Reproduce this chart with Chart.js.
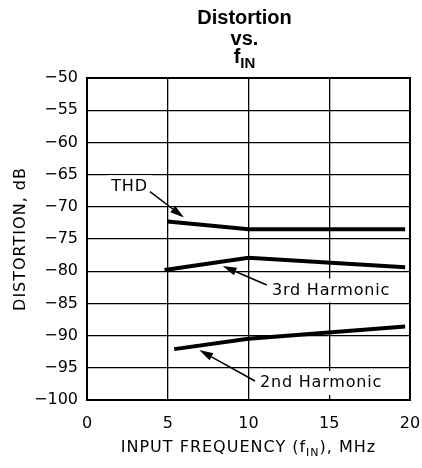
<!DOCTYPE html>
<html>
<head>
<meta charset="utf-8">
<script src="https://cdn.jsdelivr.net/npm/chart.js@4"></script>
<style>
  html, body { margin: 0; padding: 0; background: #fff; }
  canvas { display: block; }
</style>
</head>
<body>
<canvas id="distChart" width="422" height="468"></canvas>
<script>
// data (MHz, dB)
const thdFreq = [5, 10, 19.7];
const thdDb = [-72.3, -73.5, -73.5];
const h3Freq = [4.8, 10, 19.7];
const h3Db = [-79.8, -77.9, -79.4];
const h2Freq = [5.4, 10, 19.7];
const h2Db = [-92.1, -90.5, -88.6];

const xTicks = [0, 5, 10, 15, 20];
const yTicks = [-50, -55, -60, -65, -70, -75, -80, -85, -90, -95, -100];

// callout labels, in data units: text position, arrow tail, arrow tip
const callouts = [
  { text: 'THD', x: 1.5, y: -66.97, tail: [3.9, -67.65], tip: [6.0, -71.66] },
  { text: '3rd Harmonic', x: 11.45, y: -83.0, tail: [11.13, -82.14], tip: [8.4, -79.19] },
  { text: '2nd Harmonic', x: 10.71, y: -97.36, tail: [10.4, -97.05], tip: [6.95, -92.24] }
];

const FONT = '"DejaVu Sans", sans-serif';

function toPoints(xs, ys) {
  return xs.map((x, i) => ({ x: x, y: ys[i] }));
}

function spaced(ctx, px) {
  if ('letterSpacing' in ctx) ctx.letterSpacing = px + 'px';
}

// arrow with filled head
function drawArrow(ctx, x1, y1, x2, y2) {
  const ang = Math.atan2(y2 - y1, x2 - x1);
  const len = 14, half = 4;
  const bx = x2 - len * Math.cos(ang), by = y2 - len * Math.sin(ang);
  ctx.beginPath();
  ctx.moveTo(x1, y1);
  ctx.lineTo(bx, by);
  ctx.lineWidth = 1.5;
  ctx.strokeStyle = '#000';
  ctx.stroke();
  ctx.beginPath();
  ctx.moveTo(x2, y2);
  ctx.lineTo(bx + half * Math.sin(ang), by - half * Math.cos(ang));
  ctx.lineTo(bx - half * Math.sin(ang), by + half * Math.cos(ang));
  ctx.closePath();
  ctx.fillStyle = '#000';
  ctx.fill();
}

// text with subscript pieces: [[str, isSub], ...], centred on cx
function drawRich(ctx, parts, cx, baseline, font, subFont, subDrop) {
  let total = 0;
  parts.forEach(p => {
    ctx.font = p[1] ? subFont : font;
    total += ctx.measureText(p[0]).width;
  });
  let x = cx - total / 2;
  ctx.textAlign = 'left';
  ctx.textBaseline = 'alphabetic';
  parts.forEach(p => {
    ctx.font = p[1] ? subFont : font;
    ctx.fillText(p[0], x, p[1] ? baseline + subDrop : baseline);
    x += ctx.measureText(p[0]).width;
  });
}

const decorPlugin = {
  id: 'decor',
  afterDatasetsDraw(chart) {
    const ctx = chart.ctx;
    const xs = chart.scales.x, ys = chart.scales.y;
    ctx.save();
    ctx.font = '16px ' + FONT;
    spaced(ctx, 0.8);
    callouts.forEach(c => {
      const tx = xs.getPixelForValue(c.x), ty = ys.getPixelForValue(c.y);
      const w = ctx.measureText(c.text).width;
      ctx.fillStyle = '#fff';
      ctx.fillRect(tx - 4, ty - 12, w + 8, 24);
      ctx.fillStyle = '#000';
      ctx.textAlign = 'left';
      ctx.textBaseline = 'middle';
      ctx.fillText(c.text, tx, ty);
      drawArrow(ctx, xs.getPixelForValue(c.tail[0]), ys.getPixelForValue(c.tail[1]),
        xs.getPixelForValue(c.tip[0]), ys.getPixelForValue(c.tip[1]));
    });
    ctx.restore();
  },
  afterDraw(chart) {
    const ctx = chart.ctx;
    const a = chart.chartArea;
    ctx.save();
    // frame
    ctx.strokeStyle = '#000';
    ctx.lineWidth = 2;
    ctx.strokeRect(a.left, a.top, a.right - a.left, a.bottom - a.top);

    // title
    ctx.fillStyle = '#000';
    ctx.textAlign = 'center';
    ctx.textBaseline = 'alphabetic';
    ctx.font = 'bold 20px "Liberation Sans", Arial, sans-serif';
    const cx = (a.left + a.right) / 2 - 4;
    ctx.fillText('Distortion', cx, 24);
    ctx.fillText('vs.', cx, 45);
    drawRich(ctx, [['f', false], ['IN', true]], cx, 63,
      'bold 20px "Liberation Sans", Arial, sans-serif',
      'bold 15px "Liberation Sans", Arial, sans-serif', 5);

    // axis titles
    spaced(ctx, 1);
    drawRich(ctx, [['INPUT FREQUENCY (f', false], ['IN', true], ['), MHz', false]],
      (a.left + a.right) / 2, 452, '16px ' + FONT, '11px ' + FONT, 4);
    ctx.translate(21, (a.top + a.bottom) / 2);
    ctx.rotate(-Math.PI / 2);
    ctx.font = '16px ' + FONT;
    ctx.textAlign = 'center';
    ctx.textBaseline = 'middle';
    ctx.fillText('DISTORTION, dB', 0, 0);
    ctx.restore();
  }
};

const lineStyle = {
  showLine: true,
  borderColor: '#000',
  borderWidth: 4,
  pointRadius: 0,
  tension: 0,
  fill: false
};

new Chart(document.getElementById('distChart'), {
  type: 'scatter',
  data: {
    datasets: [
      Object.assign({ label: 'THD', data: toPoints(thdFreq, thdDb) }, lineStyle),
      Object.assign({ label: '3rd Harmonic', data: toPoints(h3Freq, h3Db) }, lineStyle),
      Object.assign({ label: '2nd Harmonic', data: toPoints(h2Freq, h2Db) }, lineStyle)
    ]
  },
  options: {
    responsive: false,
    animation: false,
    layout: { padding: { top: 78, right: 12, left: 0, bottom: 0 } },
    plugins: {
      legend: { display: false },
      tooltip: { enabled: false },
      title: { display: false }
    },
    scales: {
      x: {
        type: 'linear',
        min: xTicks[0],
        max: xTicks[xTicks.length - 1],
        afterBuildTicks: s => { s.ticks = xTicks.map(v => ({ value: v })); },
        afterFit: s => { s.height = 68; s.paddingLeft = 0; s.paddingRight = 0; },
        ticks: {
          color: '#000',
          font: { family: FONT, size: 16 },
          padding: 14,
          maxRotation: 0
        },
        grid: { color: '#000', lineWidth: 1.3, drawTicks: false },
        border: { color: '#000', width: 2 }
      },
      y: {
        type: 'linear',
        min: yTicks[yTicks.length - 1],
        max: yTicks[0],
        afterBuildTicks: s => { s.ticks = yTicks.map(v => ({ value: v })); },
        afterFit: s => { s.width = 87; s.paddingTop = 0; s.paddingBottom = 0; },
        ticks: {
          color: '#000',
          font: { family: FONT, size: 16 },
          padding: 9,
          callback: v => String(v).replace('-', '\u2212')
        },
        grid: { color: '#000', lineWidth: 1.3, drawTicks: false },
        border: { color: '#000', width: 2 }
      }
    }
  },
  plugins: [decorPlugin]
});
</script>
</body>
</html>
